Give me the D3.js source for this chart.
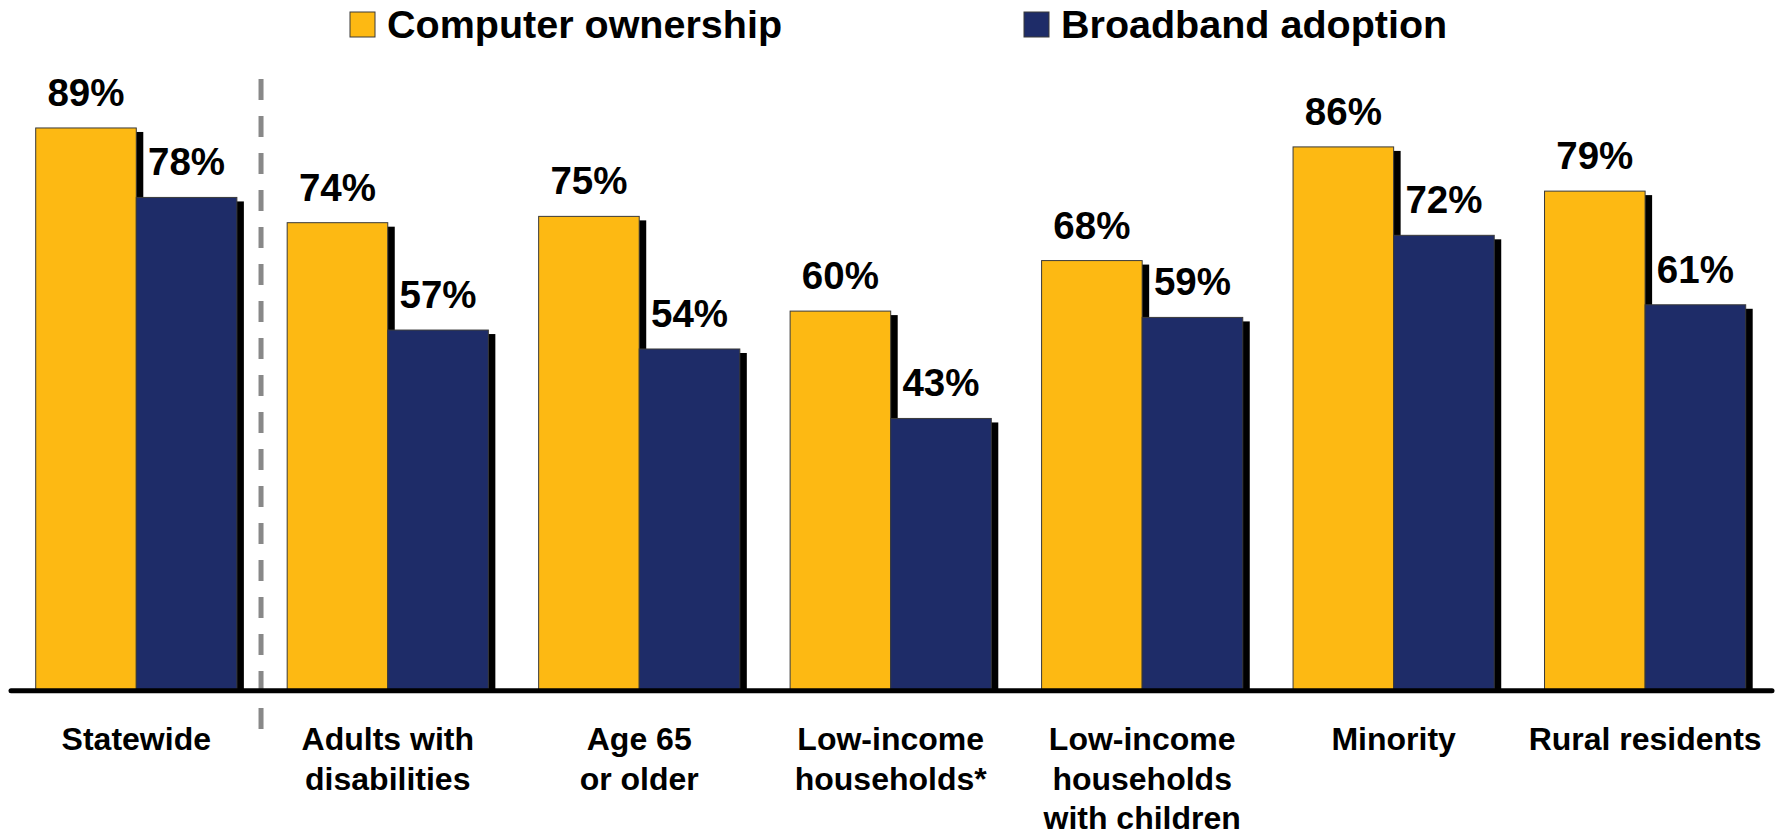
<!DOCTYPE html>
<html>
<head>
<meta charset="utf-8">
<style>
body { margin: 0; background: #fff; }
text { font-family: "Liberation Sans", Arial, sans-serif; font-weight: bold; fill: #000; }
</style>
<script src="https://d3js.org/d3.v7.min.js"></script>
</head>
<body>
<div id="chart"></div>
<script>
    // data
    var categories = ["Statewide", "Adults with disabilities", "Age 65 or older",
        "Low-income households*", "Low-income households with children", "Minority", "Rural residents"];
    var categoryLines = [
        ["Statewide"],
        ["Adults with", "disabilities"],
        ["Age 65", "or older"],
        ["Low-income", "households*"],
        ["Low-income", "households", "with children"],
        ["Minority"],
        ["Rural residents"]
    ];
    var seriesNames = ["Computer ownership", "Broadband adoption"];
    var computer = [89, 74, 75, 60, 68, 86, 79];
    var broadband = [78, 57, 54, 43, 59, 72, 61];

    var colors = ["#FDB913", "#1E2C68"];

    var width = 1779, height = 837;

    var svg = d3.select("#chart")
        .append("svg")
        .attr("width", width)
        .attr("height", height);

    var x = d3.scaleBand()
        .domain(categories)
        .range([35.7, 1745.7])
        .paddingInner(0.2)
        .paddingOuter(0);

    var xs = d3.scaleBand()
        .domain(seriesNames)
        .range([0, x.bandwidth()]);

    var y = d3.scaleLinear()
        .domain([0, 100])
        .range([690, 58.5]);

    var rows = categories.map(function (c, i) {
        return [
            {cat: c, series: seriesNames[0], value: computer[i]},
            {cat: c, series: seriesNames[1], value: broadband[i]}
        ];
    });
    var flat = [].concat.apply([], rows);

    // shadows first
    svg.append("g")
        .selectAll("rect")
        .data(flat)
        .enter()
        .append("rect")
        .attr("x", function (d) { return x(d.cat) + xs(d.series) + 7; })
        .attr("y", function (d) { return y(d.value) + 4; })
        .attr("width", xs.bandwidth())
        .attr("height", function (d) { return y(0) - y(d.value) - 2; })
        .style("fill", "#000");

    // bars
    svg.append("g")
        .selectAll("rect")
        .data(flat)
        .enter()
        .append("rect")
        .attr("x", function (d) { return x(d.cat) + xs(d.series); })
        .attr("y", function (d) { return y(d.value); })
        .attr("width", xs.bandwidth())
        .attr("height", function (d) { return y(0) - y(d.value); })
        .style("fill", function (d) { return colors[seriesNames.indexOf(d.series)]; })
        .style("stroke", "#3a3a3a")
        .style("stroke-width", 1);

    // value labels
    svg.append("g")
        .selectAll("text")
        .data(flat)
        .enter()
        .append("text")
        .attr("x", function (d) { return x(d.cat) + xs(d.series) + xs.bandwidth() / 2; })
        .attr("y", function (d) { return y(d.value) - 22; })
        .style("text-anchor", "middle")
        .style("font-size", "38.5px")
        .text(function (d) { return d.value + "%"; });

    // dashed separator after Statewide
    var sepX = (x(categories[0]) + x.bandwidth() + x(categories[1])) / 2 - 1;
    svg.append("line")
        .attr("x1", sepX).attr("x2", sepX)
        .attr("y1", 79).attr("y2", 734)
        .style("stroke", "#888")
        .style("stroke-width", 5)
        .style("stroke-dasharray", "21,16");

    // baseline
    svg.append("line")
        .attr("x1", 11).attr("x2", 1772)
        .attr("y1", y(0) + 0.7).attr("y2", y(0) + 0.7)
        .style("stroke", "#000")
        .style("stroke-width", 5)
        .style("stroke-linecap", "round");

    // category labels
    var labels = svg.append("g")
        .selectAll("text")
        .data(categories)
        .enter()
        .append("text")
        .attr("x", function (d) { return x(d) + x.bandwidth() / 2; })
        .attr("y", 750)
        .style("text-anchor", "middle")
        .style("font-size", "32px");
    labels.selectAll("tspan")
        .data(function (d, i) { return categoryLines[i]; })
        .enter()
        .append("tspan")
        .attr("x", function () { return d3.select(this.parentNode).attr("x"); })
        .attr("dy", function (d, i) { return i === 0 ? 0 : 39.5; })
        .text(function (d) { return d; });

    // legend
    var legendX = [350, 1024];
    var legend = svg.append("g")
        .selectAll("g")
        .data(seriesNames)
        .enter()
        .append("g")
        .attr("transform", function (d, i) { return "translate(" + legendX[i] + ",12)"; });
    legend.append("rect")
        .attr("width", 25)
        .attr("height", 25)
        .style("fill", function (d, i) { return colors[i]; })
        .style("stroke", "#3a3a3a")
        .style("stroke-width", 1);
    legend.append("text")
        .attr("x", 37)
        .attr("y", 26)
        .style("font-size", "39.5px")
        .text(function (d) { return d; });
</script>
</body>
</html>
